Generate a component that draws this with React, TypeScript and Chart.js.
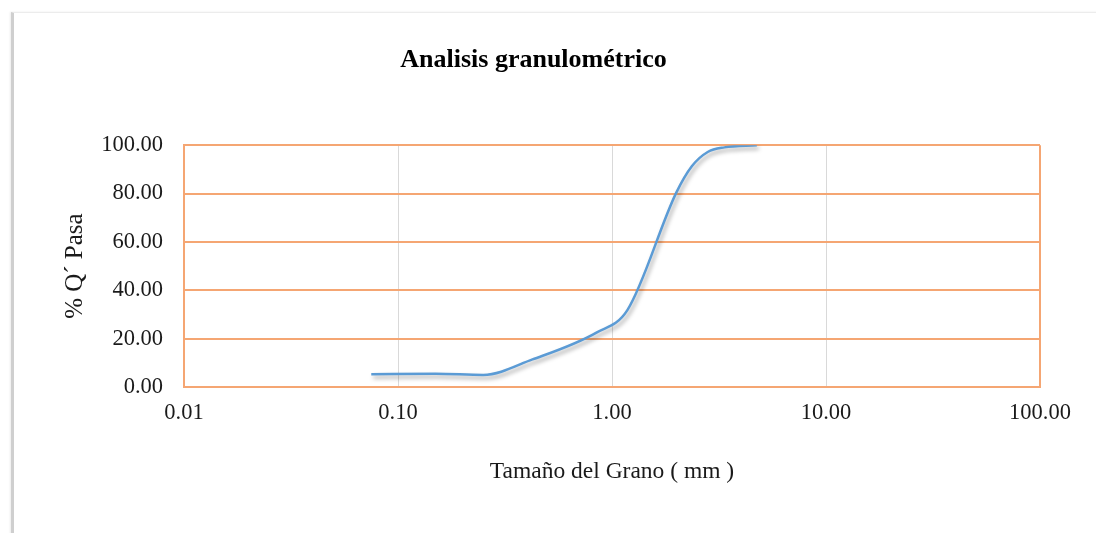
import React, { useEffect, useRef } from "react";
import { Chart, registerables } from "chart.js";

Chart.register(...registerables);

// Sieve sizes (mm) and % passing
const sieveSizes = [0.075, 0.15, 0.25, 0.425, 0.85, 1.18, 2.0, 2.36, 2.8, 3.35, 4.75];
const percentPassing = [5.3, 5.5, 5.0, 11.4, 22.6, 31.8, 80.5, 91.3, 97.2, 99.1, 100.0];

const xTickValues = [0.01, 0.1, 1, 10, 100];
const yTickValues = [0, 20, 40, 60, 80, 100];

const chartTitle = "Analisis granulométrico";
const xAxisTitle = "Tamaño del Grano ( mm )";
const yAxisTitle = "% Q´ Pasa";

const ORANGE = "#F5A673";
const GRAY = "#D9D9D9";
const BLUE = "#5B9BD5";
const FONT = "'Liberation Serif', 'Times New Roman', serif";

export default function App() {
  const canvasRef = useRef<HTMLCanvasElement | null>(null);

  useEffect(() => {
    if (!canvasRef.current) return;
    const points = sieveSizes.map((s, i) => ({ x: s, y: percentPassing[i] }));

    const shadowPlugin = {
      id: "lineShadow",
      beforeDatasetDraw(chart: any) {
        const ctx = chart.ctx;
        ctx.save();
        ctx.shadowColor = "rgba(0,0,0,0.35)";
        ctx.shadowBlur = 4;
        ctx.shadowOffsetX = 2;
        ctx.shadowOffsetY = 3;
      },
      afterDatasetDraw(chart: any) {
        chart.ctx.restore();
      },
    };

    const chart = new Chart(canvasRef.current, {
      type: "line",
      data: {
        datasets: [
          {
            data: points,
            borderColor: BLUE,
            borderWidth: 2.5,
            pointRadius: 0,
            cubicInterpolationMode: "monotone",
            fill: false,
          },
        ],
      },
      plugins: [shadowPlugin],
      options: {
        animation: false,
        responsive: false,
        devicePixelRatio: 1,
        layout: { padding: { top: 13, left: 0, right: 29, bottom: 0 } },
        plugins: {
          legend: { display: false },
          tooltip: { enabled: false },
          title: {
            display: true,
            text: chartTitle,
            color: "#000",
            font: { family: FONT, size: 26, weight: "bold" },
            padding: { top: 32, bottom: 69 },
          },
        },
        scales: {
          x: {
            type: "logarithmic",
            min: 0.01,
            max: 100,
            afterBuildTicks: (scale: any) => {
              scale.ticks = xTickValues.map((v) => ({ value: v }));
            },
            afterFit: (scale: any) => {
              scale.height = 146;
            },
            ticks: {
              autoSkip: false,
              maxRotation: 0,
              padding: 13,
              color: "#1a1a1a",
              font: { family: FONT, size: 22.5 },
              callback: (v: any) => Number(v).toFixed(2),
            },
            grid: {
              drawTicks: false,
              lineWidth: (ctx: any) =>
                ctx.tick && (ctx.tick.value === 100 || ctx.tick.value === 0.01) ? 2 : 1,
              color: (ctx: any) =>
                ctx.tick && (ctx.tick.value === 100 || ctx.tick.value === 0.01) ? ORANGE : GRAY,
            },
            border: { display: true, color: ORANGE, width: 2 },
            title: {
              display: true,
              text: xAxisTitle,
              color: "#1a1a1a",
              font: { family: FONT, size: 23.5 },
              padding: { top: 0, bottom: 47 },
            },
          },
          y: {
            type: "linear",
            min: 0,
            max: 100,
            afterBuildTicks: (scale: any) => {
              scale.ticks = yTickValues.map((v) => ({ value: v }));
            },
            afterFit: (scale: any) => {
              scale.width = 184;
            },
            ticks: {
              padding: 21,
              color: "#1a1a1a",
              font: { family: FONT, size: 22.5 },
              callback: (v: any) => Number(v).toFixed(2),
            },
            grid: { drawTicks: false, color: ORANGE, lineWidth: 2 },
            border: { display: true, color: ORANGE, width: 2 },
            title: {
              display: true,
              text: yAxisTitle,
              color: "#1a1a1a",
              font: { family: FONT, size: 25 },
              padding: { top: 60, bottom: 0 },
            },
          },
          y2: {
            type: "linear",
            position: "right",
            min: 0,
            max: 100,
            afterFit: (scale: any) => {
              scale.width = 27;
            },
            ticks: { display: false },
            grid: { display: false, drawTicks: false },
            border: { display: false },
          },
        },
      },
    } as any);

    return () => chart.destroy();
  }, []);

  return (
    <div
      style={{
        position: "fixed",
        left: 0,
        top: 0,
        width: 1096,
        height: 533,
        background: "#fff",
        overflow: "hidden",
      }}
    >
      <div
        style={{
          position: "absolute",
          left: 11,
          top: 12,
          width: 1100,
          height: 540,
          borderLeft: "3px solid #cfcfcf",
          borderTop: "1px solid #ececec",
          boxShadow: "-1px 0 2px rgba(0,0,0,0.08)",
        }}
      />
      <canvas
        ref={canvasRef}
        width={1096}
        height={533}
        style={{ position: "absolute", left: 0, top: 0, width: 1096, height: 533 }}
      />
    </div>
  );
}
